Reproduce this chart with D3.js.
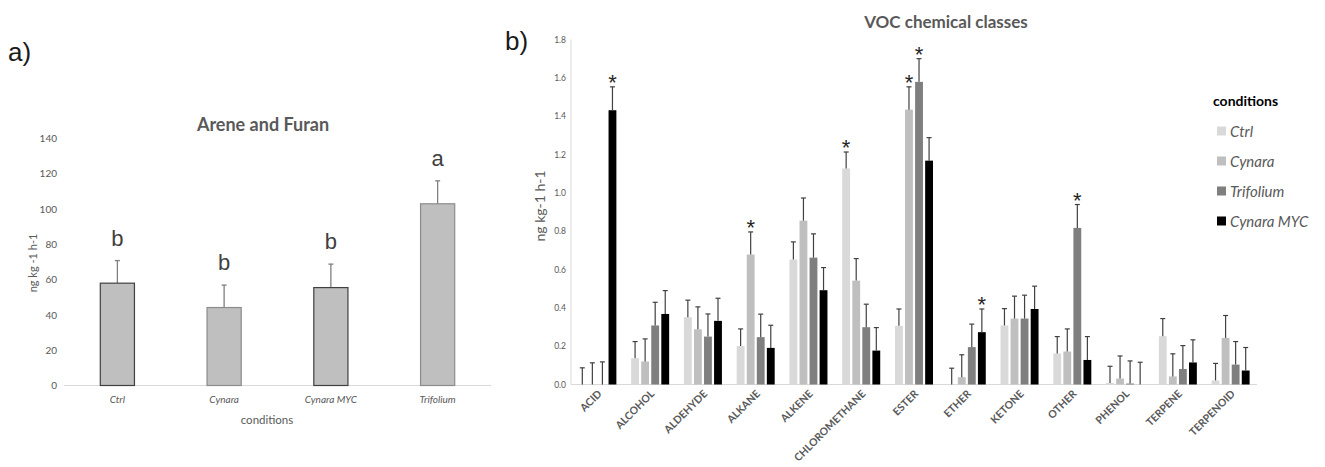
<!DOCTYPE html>
<html>
<head>
<meta charset="utf-8">
<script src="https://cdn.jsdelivr.net/npm/d3@7"></script>
<style>
  body { margin: 0; background: #fff; }
  text { font-family: Lato, "Open Sans", sans-serif; }
</style>
</head>
<body>
<div id="chart"></div>
<script>
// panel a) Arene and Furan
let condA = ["Ctrl", "Cynara", "Cynara MYC", "Trifolium"];
let valA = [58, 44.2, 55.5, 103];
let errA = [12.8, 12.7, 13.3, 13];
let letterA = ["b", "b", "b", "a"];
let ticksA = [0, 20, 40, 60, 80, 100, 120, 140];

// panel b) VOC chemical classes
let classes = ["ACID", "ALCOHOL", "ALDEHYDE", "ALKANE", "ALKENE", "CHLOROMETHANE", "ESTER",
               "ETHER", "KETONE", "OTHER", "PHENOL", "TERPENE", "TERPENOID"];
let series = ["Ctrl", "Cynara", "Trifolium", "Cynara MYC"];
let ctrl      = [0, 0.137, 0.351, 0.201, 0.652, 1.127, 0.306, 0, 0.308, 0.162, 0.008, 0.252, 0.021];
let cynara    = [0, 0.120, 0.288, 0.678, 0.855, 0.542, 1.434, 0.038, 0.344, 0.172, 0.031, 0.042, 0.243];
let trifolium = [0, 0.308, 0.250, 0.247, 0.662, 0.299, 1.579, 0.195, 0.344, 0.817, 0.005, 0.081, 0.104];
let cynaraMyc = [1.431, 0.368, 0.332, 0.191, 0.492, 0.177, 1.168, 0.273, 0.394, 0.128, 0, 0.115, 0.073];
let ctrlErr      = [0.087, 0.087, 0.089, 0.089, 0.092, 0.086, 0.088, 0.085, 0.088, 0.088, 0.087, 0.092, 0.089];
let cynaraErr    = [0.113, 0.118, 0.117, 0.118, 0.118, 0.115, 0.119, 0.117, 0.117, 0.118, 0.118, 0.118, 0.117];
let trifoliumErr = [0.118, 0.121, 0.118, 0.120, 0.124, 0.120, 0.121, 0.120, 0.122, 0.122, 0.118, 0.122, 0.120];
let cynaraMycErr = [0.122, 0.122, 0.118, 0.118, 0.118, 0.120, 0.120, 0.121, 0.119, 0.122, 0.116, 0.118, 0.120];
// [class index, series index] pairs that carry an asterisk
let stars = [[0, 3], [3, 1], [5, 0], [6, 1], [6, 2], [7, 3], [9, 2]];
let ticksB = [0, 0.2, 0.4, 0.6, 0.8, 1.0, 1.2, 1.4, 1.6, 1.8];
let colors = ["#d9d9d9", "#bfbfbf", "#7f7f7f", "#000000"];

let width = 1325, height = 467;

let svg = d3.select("#chart")
            .append("svg")
            .attr("width", width)
            .attr("height", height)

// ---------- panel a ----------
let xA = d3.scaleBand()
           .domain(condA)
           .range([64, 491])
           .paddingInner(0.68)
           .paddingOuter(0.34)

let yA = d3.scaleLinear()
           .domain([0, 140])
           .range([385.5, 138.5])

svg.append("text")
   .text("a)")
   .attr("x", 8)
   .attr("y", 61)
   .style("font-family", "'Liberation Sans', Arial, sans-serif")
   .style("font-size", "26px")
   .attr("fill", "#1a1a1a")

svg.append("text")
   .text("Arene and Furan")
   .attr("x", 263)
   .attr("y", 131)
   .attr("text-anchor", "middle")
   .style("font-size", "18px")
   .style("font-weight", "bold")
   .attr("fill", "#595959")

let yaxisA = svg.append("g")
                .attr("transform", "translate(57,0)")
                .style("color", "#595959")
                .call(d3.axisLeft(yA).tickValues(ticksA).tickSize(0).tickPadding(0))
yaxisA.select(".domain").remove()
yaxisA.selectAll("text").style("font-size", "10px").style("fill", "#595959")

svg.append("line")
   .attr("x1", 64).attr("x2", 491)
   .attr("y1", yA(0)).attr("y2", yA(0))
   .attr("stroke", "#d9d9d9")

let xaxisA = svg.append("g")
                .attr("transform", `translate(0,${yA(0)})`)
                .style("color", "#595959")
                .call(d3.axisBottom(xA).tickSize(0).tickPadding(10))
xaxisA.select(".domain").remove()
xaxisA.selectAll("text").style("font-size", "10px").style("font-style", "italic").style("fill", "#595959")

svg.append("text")
   .text("ng kg -1 h-1")
   .attr("transform", "translate(37,263) rotate(-90)")
   .attr("text-anchor", "middle")
   .style("font-size", "11px")
   .style("fill", "#595959")

svg.append("text")
   .text("conditions")
   .attr("x", 267)
   .attr("y", 424)
   .attr("text-anchor", "middle")
   .style("font-size", "11.5px")
   .style("fill", "#595959")

let gA = svg.append("g")
condA.forEach((c, i) => {
  let cx = xA(c) + xA.bandwidth() / 2;
  let top = yA(valA[i] + errA[i]);
  gA.append("line")
    .attr("x1", cx).attr("x2", cx)
    .attr("y1", yA(valA[i])).attr("y2", top)
    .attr("stroke", "#7f7f7f").attr("stroke-width", 1.3)
  gA.append("line")
    .attr("x1", cx - 2.5).attr("x2", cx + 2.5)
    .attr("y1", top).attr("y2", top)
    .attr("stroke", "#7f7f7f").attr("stroke-width", 1.3)
  gA.append("rect")
    .attr("x", xA(c))
    .attr("y", yA(valA[i]))
    .attr("width", xA.bandwidth())
    .attr("height", yA(0) - yA(valA[i]))
    .attr("fill", "#bfbfbf")
    .attr("stroke", i % 2 == 0 ? "#404040" : "#8c8c8c")
    .attr("stroke-width", 1.2)
  gA.append("text")
    .text(letterA[i])
    .attr("x", cx)
    .attr("y", top - 15)
    .attr("text-anchor", "middle")
    .style("font-family", "'Liberation Sans', Arial, sans-serif")
    .style("font-size", "22px")
    .attr("fill", "#404040")
})

// ---------- panel b ----------
let vals = [ctrl, cynara, trifolium, cynaraMyc];
let errs = [ctrlErr, cynaraErr, trifoliumErr, cynaraMycErr];

let x0 = d3.scaleBand()
           .domain(classes)
           .range([571, 1257])
           .paddingInner(0.28)
           .paddingOuter(0.14)

let x1 = d3.scaleBand()
           .domain(series)
           .range([0, x0.bandwidth()])
           .paddingInner(0.22)

let yB = d3.scaleLinear()
           .domain([0, 1.8])
           .range([384.5, 39.5])

svg.append("text")
   .text("b)")
   .attr("x", 505)
   .attr("y", 50)
   .style("font-family", "'Liberation Sans', Arial, sans-serif")
   .style("font-size", "26px")
   .attr("fill", "#1a1a1a")

svg.append("text")
   .text("VOC chemical classes")
   .attr("x", 946)
   .attr("y", 28)
   .attr("text-anchor", "middle")
   .style("font-size", "17px")
   .style("font-weight", "bold")
   .attr("fill", "#595959")

let yaxisB = svg.append("g")
                .attr("transform", "translate(566,0)")
                .style("color", "#595959")
                .call(d3.axisLeft(yB).tickValues(ticksB).tickFormat(d3.format(".1f")).tickSize(0).tickPadding(0))
yaxisB.select(".domain").remove()
yaxisB.selectAll("text").style("font-size", "8.5px").style("fill", "#595959")

svg.append("line")
   .attr("x1", 571).attr("x2", 571)
   .attr("y1", yB(0)).attr("y2", yB(1.8))
   .attr("stroke", "#d9d9d9")

svg.append("line")
   .attr("x1", 571).attr("x2", 1257)
   .attr("y1", yB(0)).attr("y2", yB(0))
   .attr("stroke", "#d9d9d9")

svg.append("text")
   .text("ng kg-1 h-1")
   .attr("transform", "translate(545,206) rotate(-90)")
   .attr("text-anchor", "middle")
   .style("font-size", "14px")
   .style("fill", "#595959")

let xaxisB = svg.append("g")
                .attr("transform", `translate(0,${yB(0)})`)
                .style("color", "#595959")
                .call(d3.axisBottom(x0).tickSize(0).tickPadding(0))
xaxisB.select(".domain").remove()
xaxisB.selectAll("text")
      .attr("text-anchor", "end")
      .attr("dy", null)
      .attr("transform", "translate(5,10) rotate(-45)")
      .style("font-size", "10.5px")
      .style("font-weight", "bold")
      .style("fill", "#595959")

let groups = svg.selectAll(".grp")
                .data(classes)
                .enter()
                .append("g")
                .attr("transform", d => `translate(${x0(d)},0)`)

groups.each(function(c, ci) {
  let g = d3.select(this);
  series.forEach((s, si) => {
    let v = vals[si][ci];
    let top = yB(v + errs[si][ci]);
    let cx = x1(s) + x1.bandwidth() / 2;
    g.append("rect")
     .attr("x", x1(s))
     .attr("y", yB(v))
     .attr("width", x1.bandwidth())
     .attr("height", yB(0) - yB(v))
     .attr("fill", colors[si])
    g.append("line")
     .attr("x1", cx).attr("x2", cx)
     .attr("y1", yB(v)).attr("y2", top)
     .attr("stroke", "#404040").attr("stroke-width", 1.2)
    g.append("line")
     .attr("x1", cx - 2.5).attr("x2", cx + 2.5)
     .attr("y1", top).attr("y2", top)
     .attr("stroke", "#404040").attr("stroke-width", 1.2)
  })
})

stars.forEach(([ci, si]) => {
  let c = classes[ci], s = series[si];
  svg.append("text")
     .text("*")
     .attr("x", x0(c) + x1(s) + x1.bandwidth() / 2)
     .attr("y", yB(vals[si][ci] + errs[si][ci]) + 3)
     .attr("text-anchor", "middle")
     .style("font-family", "'Liberation Sans', Arial, sans-serif")
     .style("font-size", "22px")
     .attr("fill", "#262626")
})

// legend
svg.append("text")
   .text("conditions")
   .attr("x", 1213)
   .attr("y", 106)
   .style("font-size", "14px")
   .style("font-weight", "bold")
   .attr("fill", "#000")

let legend = svg.selectAll(".leg")
                .data(series)
                .enter()
                .append("g")
                .attr("transform", (d, i) => `translate(1217,${131 + i * 30})`)

legend.append("rect")
      .attr("x", 0).attr("y", -4.5)
      .attr("width", 9).attr("height", 9)
      .attr("fill", (d, i) => colors[i])

legend.append("text")
      .text(d => d)
      .attr("x", 13)
      .attr("y", 5.5)
      .style("font-size", "15px")
      .style("font-style", "italic")
      .style("fill", "#595959")
</script>
</body>
</html>
